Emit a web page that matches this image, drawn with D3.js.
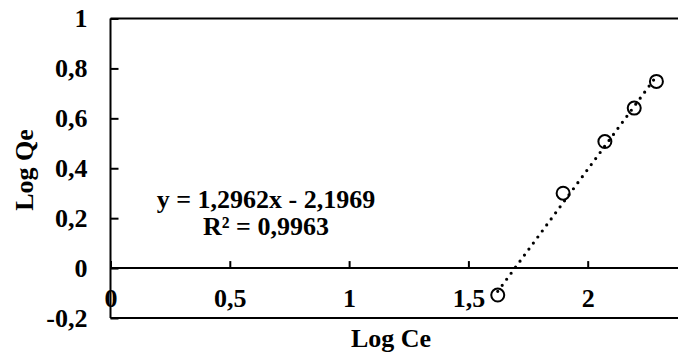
<!DOCTYPE html>
<html>
<head>
<meta charset="utf-8">
<script src="https://cdn.jsdelivr.net/npm/d3@7"></script>
<style>
  body { margin: 0; background: #fff; }
  text { font-family: "Liberation Serif", "Times New Roman", serif; font-weight: bold; fill: #000; }
</style>
</head>
<body>
<div id="chart-area"></div>
<script>
// data
var logCe = [1.623, 1.897, 2.072, 2.195, 2.288];
var logQe = [-0.108, 0.300, 0.507, 0.641, 0.748];
var xTicks = [0, 0.5, 1, 1.5, 2];
var yTicks = [-0.2, 0, 0.2, 0.4, 0.6, 0.8, 1];
var slope = 1.2962;
var intercept = -2.1969;
var equationText = "y = 1,2962x - 2,1969";
var r2Text = "R² = 0,9963";

var width = 678, height = 358;
var fontSize = "26px";

var svg = d3.select("#chart-area").append("svg")
    .attr("width", width)
    .attr("height", height);

var x = d3.scaleLinear().domain([0, 2.5]).range([110.5, 707]);
var y = d3.scaleLinear().domain([-0.2, 1]).range([318, 18.5]);

var locale = d3.formatLocale({decimal: ",", thousands: ".", grouping: [3], currency: ["", ""], minus: "-"});
var fmt = locale.format("~g");

// y axis
var yAxis = svg.append("g")
    .attr("transform", "translate(" + x(0) + ",0)")
    .call(d3.axisLeft(y).tickValues(yTicks).tickSize(-8).tickPadding(23).tickFormat(fmt));
yAxis.select(".domain").remove();
yAxis.selectAll("line").attr("stroke", "#000").attr("stroke-width", 2);
yAxis.selectAll("text").style("font-size", fontSize).attr("font-family", null);

// x axis on the zero line
var xAxis = svg.append("g")
    .attr("transform", "translate(0," + y(0) + ")")
    .call(d3.axisBottom(x).tickValues(xTicks).tickSize(-7).tickPadding(20.5).tickFormat(fmt));
xAxis.select(".domain").remove();
xAxis.selectAll("line").attr("stroke", "#000").attr("stroke-width", 2);
xAxis.selectAll("text").style("font-size", fontSize).attr("font-family", null);

// frame lines
var frame = [
    [x(0), y(1), width, y(1)],
    [x(0), y(0), width, y(0)],
    [x(0), y(-0.2), width, y(-0.2)],
    [x(0), y(1), x(0), y(-0.2)]
];
svg.selectAll(".frame").data(frame).enter().append("line")
    .attr("class", "frame")
    .attr("x1", function(d) { return d[0]; })
    .attr("y1", function(d) { return d[1]; })
    .attr("x2", function(d) { return d[2]; })
    .attr("y2", function(d) { return d[3]; })
    .attr("stroke", "#000")
    .attr("stroke-width", 2);

// markers
svg.selectAll(".pt").data(logCe).enter().append("circle")
    .attr("class", "pt")
    .attr("cx", function(d) { return x(d); })
    .attr("cy", function(d, i) { return y(logQe[i]); })
    .attr("r", 6.5)
    .attr("fill", "none")
    .attr("stroke", "#000")
    .attr("stroke-width", 2);

// dotted trend line
var xMin = d3.min(logCe), xMax = d3.max(logCe);
var trend = [xMin, xMax].map(function(v) { return [v, slope * v + intercept]; });
svg.append("path")
    .attr("d", d3.line().x(function(d) { return x(d[0]); }).y(function(d) { return y(d[1]); })(trend))
    .attr("fill", "none")
    .attr("stroke", "#000")
    .attr("stroke-width", 3.2)
    .attr("stroke-linecap", "round")
    .attr("stroke-dasharray", "0,7.5");

// equation
svg.append("text").attr("x", 266).attr("y", 208).attr("text-anchor", "middle")
    .style("font-size", fontSize).text(equationText);
svg.append("text").attr("x", 266).attr("y", 235).attr("text-anchor", "middle")
    .style("font-size", fontSize).text(r2Text);

// axis titles
svg.append("text").attr("x", 391).attr("y", 347).attr("text-anchor", "middle")
    .style("font-size", fontSize).text("Log Ce");
svg.append("text")
    .attr("transform", "translate(33,170) rotate(-90)")
    .attr("text-anchor", "middle")
    .style("font-size", fontSize).text("Log Qe");
</script>
</body>
</html>
